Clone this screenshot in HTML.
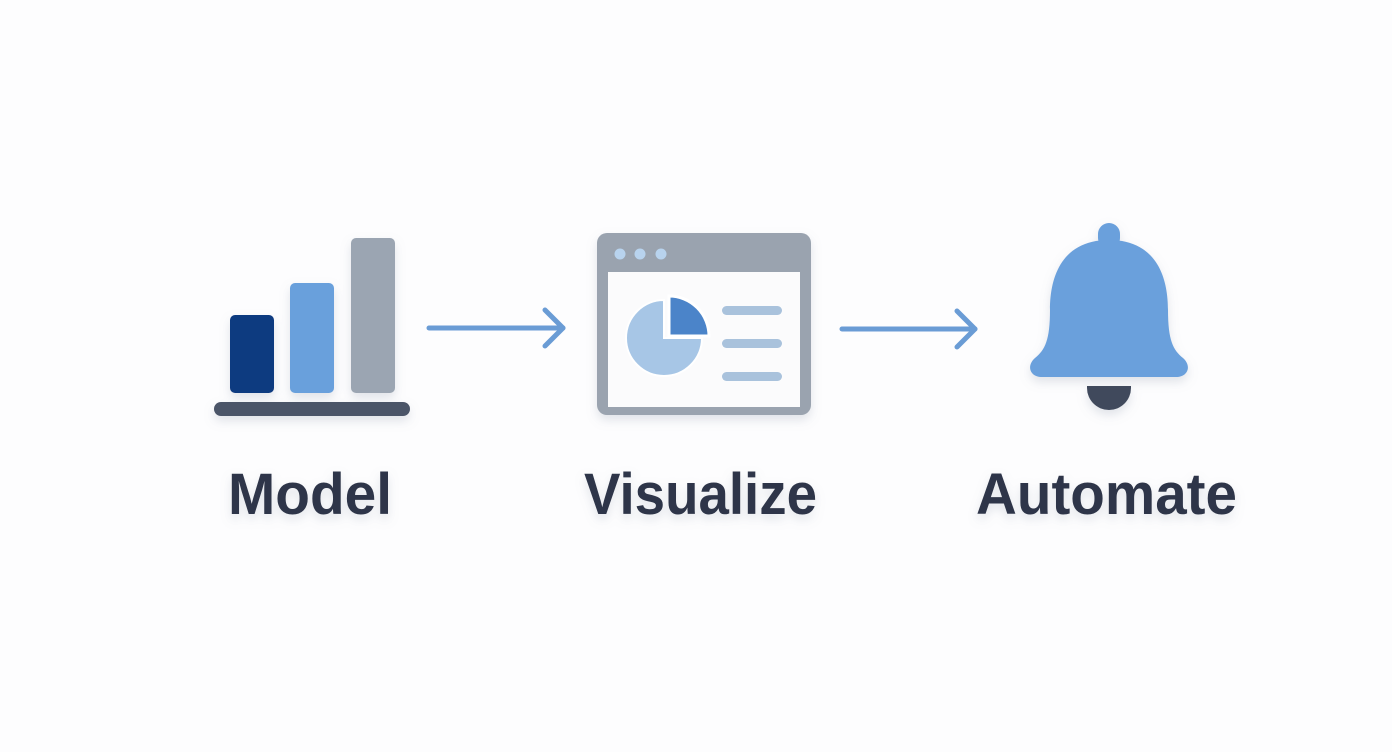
<!DOCTYPE html>
<html><head><style>
html,body{margin:0;padding:0;background:#fdfdfe;}
svg{display:block}
</style></head><body>
<svg width="1392" height="752" viewBox="0 0 1392 752" xmlns="http://www.w3.org/2000/svg">
<defs>
<filter id="sh" x="-20%" y="-20%" width="140%" height="150%">
<feDropShadow dx="0" dy="5" stdDeviation="5" flood-color="#8a94a8" flood-opacity="0.25"/>
</filter>
</defs>
<rect width="1392" height="752" fill="#fdfdfe"/>
<g filter="url(#sh)">
<rect x="230" y="315" width="44" height="78" rx="5" fill="#0f3a80"/>
<rect x="290" y="283" width="44" height="110" rx="5" fill="#69a0dc"/>
<rect x="351" y="238" width="44" height="155" rx="5" fill="#9ba5b2"/>
<rect x="214" y="402" width="196" height="14" rx="7" fill="#4b5468"/>
</g>
<g stroke="#6a9cd5" stroke-width="5" stroke-linecap="round" stroke-linejoin="round" fill="none">
<line x1="429" y1="328" x2="563" y2="328"/>
<polyline points="545,310 563,328 545,346"/>
<line x1="842" y1="329" x2="975" y2="329"/>
<polyline points="957,311 975,329 957,347"/>
</g>
<g filter="url(#sh)">
<rect x="597" y="233" width="214" height="182" rx="10" fill="#9aa3af"/>
<rect x="608" y="272" width="192" height="135" fill="#fbfbfc"/>
<circle cx="620" cy="254" r="5.5" fill="#b8d3ee"/>
<circle cx="640" cy="254" r="5.5" fill="#b8d3ee"/>
<circle cx="661" cy="254" r="5.5" fill="#b8d3ee"/>
<path d="M664,338 L664,300 A38,38 0 1 0 702,338 Z" fill="#a7c6e6" stroke="#fff" stroke-width="2"/>
<path d="M669,336 L669,296 A40,40 0 0 1 709,336 Z" fill="#4b84c9" stroke="#fff" stroke-width="3"/>
<rect x="722" y="306" width="60" height="9" rx="4.5" fill="#a9c2dc"/>
<rect x="722" y="339" width="60" height="9" rx="4.5" fill="#a9c2dc"/>
<rect x="722" y="372" width="60" height="9" rx="4.5" fill="#a9c2dc"/>
</g>
<g filter="url(#sh)">
<rect x="1098" y="223" width="22" height="26" rx="11" fill="#6aa0dc"/>
<path d="M1109,240 C1063,240 1050,275 1050,310 C1050,340 1045,350 1035,358 C1026,366 1030,377 1042,377 L1176,377 C1188,377 1192,366 1183,358 C1173,350 1168,340 1168,310 C1168,275 1155,240 1109,240 Z" fill="#6aa0dc"/>
<path d="M1087,386 L1131,386 L1131,388 A22,22 0 0 1 1087,388 Z" fill="#404a5c"/>
</g>
<g font-family="Liberation Sans, sans-serif" font-weight="bold" font-size="58" fill="#2f3648" filter="url(#sh)">
<text x="228" y="514" textLength="164" lengthAdjust="spacingAndGlyphs">Model</text>
<text x="584" y="514" textLength="233" lengthAdjust="spacingAndGlyphs">Visualize</text>
<text x="976" y="514" textLength="261" lengthAdjust="spacingAndGlyphs">Automate</text>
</g>
</svg>
</body></html>
